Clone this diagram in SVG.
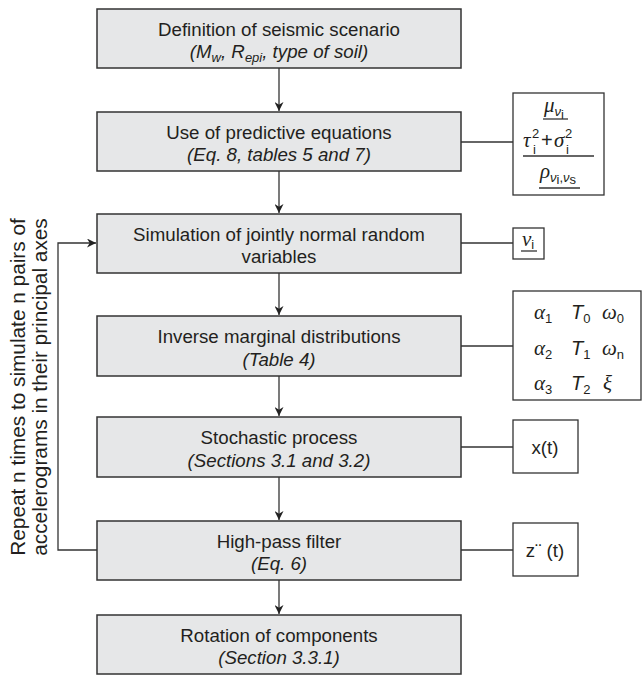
<svg xmlns="http://www.w3.org/2000/svg" width="643" height="683" viewBox="0 0 643 683">
<style>
.box{fill:#e6e7e8;stroke:#333;stroke-width:1.5}
.side{fill:#fff;stroke:#333;stroke-width:1.3}
.t{font-family:"Liberation Sans",Arial,sans-serif;font-size:18.7px;fill:#231f20;text-anchor:middle}
.i{font-style:italic}
.ln{stroke:#333;stroke-width:1.3;fill:none}
.g{font-family:"Liberation Serif","Times New Roman",serif;font-style:italic;font-size:21px;fill:#231f20}
.s{font-family:"Liberation Sans",Arial,sans-serif;font-style:normal;font-size:13px;fill:#231f20}
.si{font-family:"Liberation Sans",Arial,sans-serif;font-style:italic;font-size:13px;fill:#231f20}
.m{font-family:"Liberation Sans",Arial,sans-serif;font-style:normal;font-size:20px;fill:#231f20}
.mi{font-family:"Liberation Sans",Arial,sans-serif;font-style:italic;font-size:20px;fill:#231f20}
.r{font-family:"Liberation Sans",Arial,sans-serif;font-size:20.8px;fill:#231f20;text-anchor:middle}
</style>
<defs>
<marker id="ah" viewBox="0 0 10 10" refX="10" refY="5" markerWidth="10" markerHeight="9" markerUnits="userSpaceOnUse" orient="auto">
<path d="M0,0 L10,5 L0,10 L3,5 Z" fill="#222"/>
</marker>
</defs>
<g id="connectors">
<line class="ln" x1="279" y1="68" x2="279" y2="111" marker-end="url(#ah)"/>
<line class="ln" x1="279" y1="171" x2="279" y2="213" marker-end="url(#ah)"/>
<line class="ln" x1="279" y1="273" x2="279" y2="315" marker-end="url(#ah)"/>
<line class="ln" x1="279" y1="376" x2="279" y2="416" marker-end="url(#ah)"/>
<line class="ln" x1="279" y1="477" x2="279" y2="520" marker-end="url(#ah)"/>
<line class="ln" x1="279" y1="580" x2="279" y2="614" marker-end="url(#ah)"/>
<polyline class="ln" points="97,550 58,550 58,243 96,243" marker-end="url(#ah)"/>
<line class="ln" x1="461" y1="142" x2="513" y2="142"/>
<line class="ln" x1="461" y1="243" x2="513" y2="243"/>
<line class="ln" x1="461" y1="346" x2="513" y2="346"/>
<line class="ln" x1="461" y1="447" x2="513" y2="447"/>
<line class="ln" x1="461" y1="550" x2="513" y2="550"/>
</g>
<g id="n1">
<rect class="box" x="97" y="9" width="364" height="59"/>
<text class="t" x="279" y="36">Definition of seismic scenario</text>
<text class="t i" x="279" y="58">(M<tspan font-size="13" dy="4">w</tspan><tspan dy="-4">, R</tspan><tspan font-size="13" dy="4">epi</tspan><tspan dy="-4">, type of soil)</tspan></text>
</g>
<g id="n2">
<rect class="box" x="97" y="112" width="364" height="59"/>
<text class="t" x="279" y="139">Use of predictive equations</text>
<text class="t i" x="279" y="161">(Eq. 8, tables 5 and 7)</text>
</g>
<g id="n3">
<rect class="box" x="97" y="214" width="364" height="59"/>
<text class="t" x="279" y="241">Simulation of jointly normal random</text>
<text class="t" x="279" y="263">variables</text>
</g>
<g id="n4">
<rect class="box" x="97" y="316" width="364" height="60"/>
<text class="t" x="279" y="343">Inverse marginal distributions</text>
<text class="t i" x="279" y="366">(Table 4)</text>
</g>
<g id="n5">
<rect class="box" x="97" y="417" width="364" height="60"/>
<text class="t" x="279" y="444">Stochastic process</text>
<text class="t i" x="279" y="467">(Sections 3.1 and 3.2)</text>
</g>
<g id="n6">
<rect class="box" x="97" y="521" width="364" height="59"/>
<text class="t" x="279" y="548">High-pass filter</text>
<text class="t i" x="279" y="570">(Eq. 6)</text>
</g>
<g id="n7">
<rect class="box" x="97" y="615" width="364" height="59"/>
<text class="t" x="279" y="642">Rotation of components</text>
<text class="t i" x="279" y="664">(Section 3.3.1)</text>
</g>
<g id="s1">
<rect class="side" x="513" y="93" width="91" height="102"/>
<text class="g" x="544" y="112">μ<tspan class="si" dy="4">ν</tspan><tspan class="s" font-size="9" dy="3">i</tspan></text>
<line class="ln" x1="543" y1="119" x2="568" y2="119"/>
<text class="g" x="523" y="147">τ</text>
<text class="s" font-size="10" x="533" y="154">i</text>
<text class="s" font-size="11" x="532" y="138">2</text>
<text class="m" x="541" y="147">+</text>
<text class="g" x="554" y="147">σ</text>
<text class="s" font-size="10" x="566" y="154">i</text>
<text class="s" font-size="11" x="565" y="138">2</text>
<line class="ln" x1="523" y1="156" x2="594" y2="156"/>
<text class="g" x="540" y="178">ρ<tspan class="si" dy="4">ν</tspan><tspan class="s" font-size="9" dy="2">i</tspan><tspan class="s" dy="-2">,</tspan><tspan class="si">ν</tspan><tspan class="s" font-size="9" dy="2">s</tspan></text>
<line class="ln" x1="539" y1="188" x2="580" y2="188"/>
</g>
<g id="s2">
<rect class="side" x="513" y="228" width="31" height="31"/>
<text class="g" x="522" y="246" font-size="16">ν<tspan class="s" font-size="9" dy="3">i</tspan></text>
<line class="ln" x1="521" y1="251" x2="537" y2="251"/>
</g>
<g id="s3">
<rect class="side" x="513" y="291" width="128" height="109"/>
<text class="g" x="534" y="319">α<tspan class="s" dy="4">1</tspan></text>
<text class="g" x="534" y="355">α<tspan class="s" dy="4">2</tspan></text>
<text class="g" x="534" y="390">α<tspan class="s" dy="4">3</tspan></text>
<text class="mi" x="571" y="319">T<tspan class="s" dy="4">0</tspan></text>
<text class="mi" x="571" y="355">T<tspan class="s" dy="4">1</tspan></text>
<text class="mi" x="571" y="390">T<tspan class="s" dy="4">2</tspan></text>
<text class="g" x="602" y="319">ω<tspan class="s" dy="4">0</tspan></text>
<text class="g" x="602" y="355">ω<tspan class="s" dy="4">n</tspan></text>
<text class="g" x="603" y="390">ξ</text>
</g>
<g id="s4">
<rect class="side" x="513" y="420" width="65" height="53"/>
<text class="t" x="545" y="454">x(t)</text>
</g>
<g id="s5">
<rect class="side" x="513" y="523" width="65" height="53"/>
<text class="t" x="545" y="557">z¨ (t)</text>
</g>
<g id="loop-label">
<text class="r" transform="translate(25,387) rotate(-90)">Repeat n times to simulate n pairs of</text>
<text class="r" transform="translate(47,387) rotate(-90)">accelerograms in their principal axes</text>
</g>
</svg>
